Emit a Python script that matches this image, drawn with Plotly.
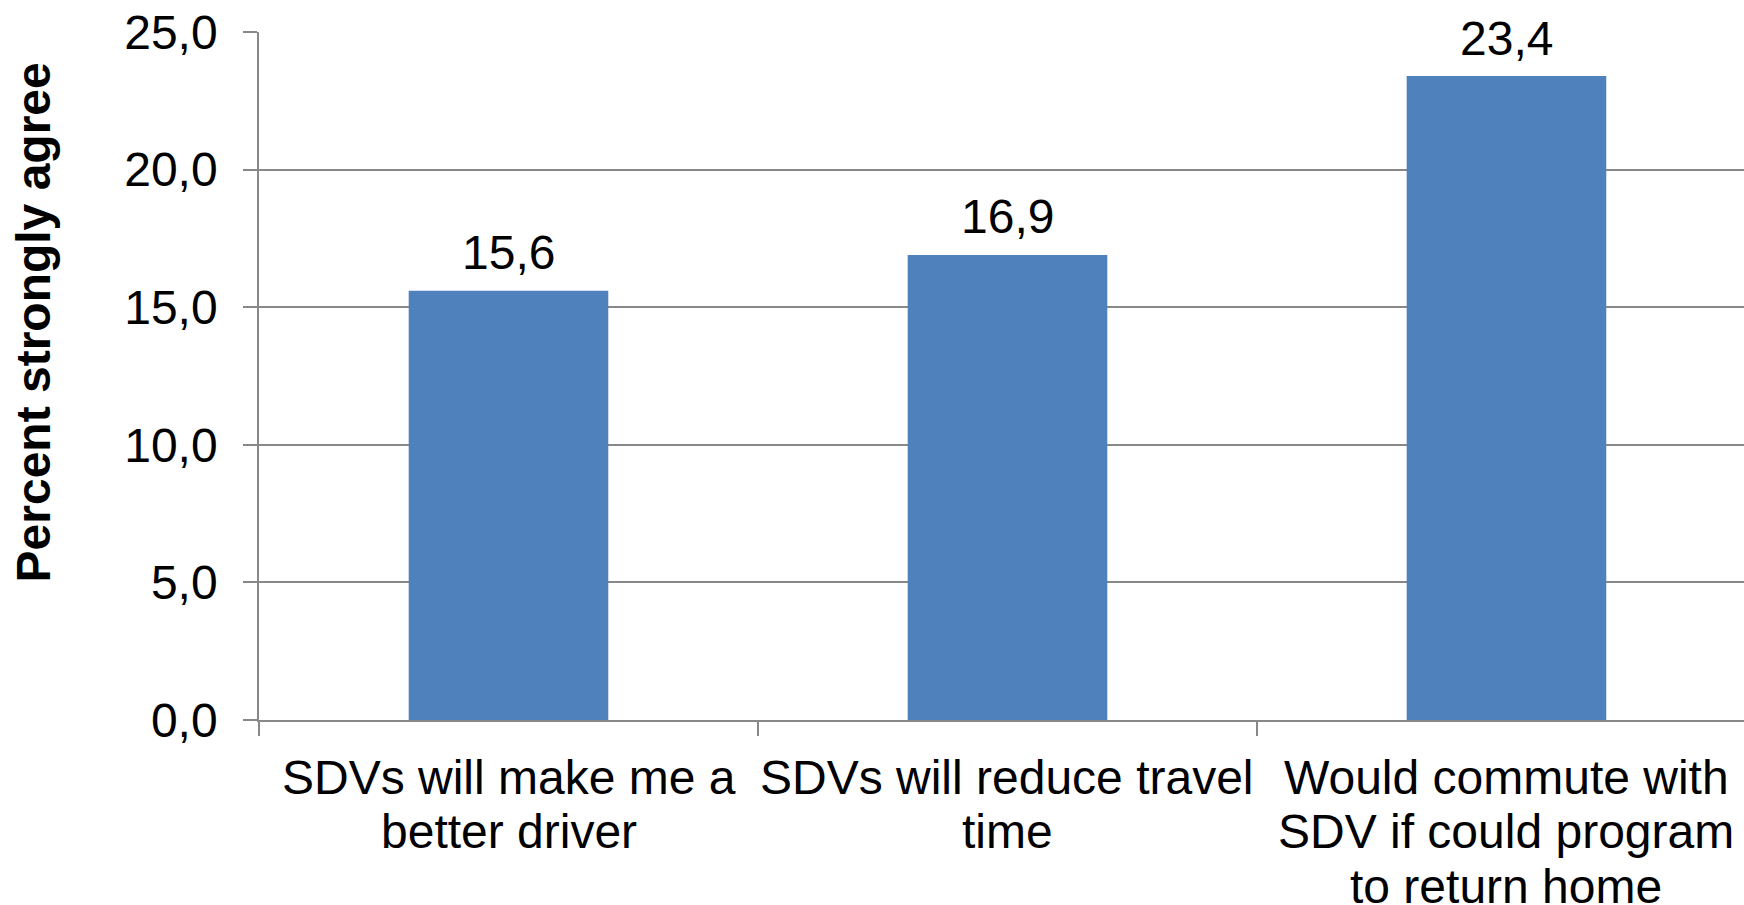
import plotly.graph_objects as go

# Survey results: share of respondents who strongly agree
categories = [
    "SDVs will make me a<br>better driver",
    "SDVs will reduce travel<br>time",
    "Would commute with<br>SDV if could program<br>to return home",
]
values = [15.6, 16.9, 23.4]
y_ticks = [0, 5, 10, 15, 20, 25]
y_title = "Percent strongly agree"

FONT = "Liberation Sans, Arial, sans-serif"
FS = 48
BAR = "#4F81BD"
GRID = "#888888"

x_idx = list(range(len(categories)))
# tick marks sit on the boundaries between categories
x_bounds = [i - 0.5 for i in x_idx]

fig = go.Figure(
    go.Bar(
        x=x_idx,
        y=values,
        width=0.4,
        marker=dict(color=BAR, line=dict(width=0)),
        hoverinfo="skip",
    )
)

annotations = []

# value labels above each bar
for xi, v in zip(x_idx, values):
    annotations.append(dict(
        x=xi, y=v, xref="x", yref="y",
        text=f"{v:.1f}".replace(".", ","),
        showarrow=False, xanchor="center", yanchor="middle",
        yshift=38, font=dict(family=FONT, size=FS, color="#000000"),
    ))

# category labels, one annotation per line for tight line spacing
for xi, label in zip(x_idx, categories):
    for k, line in enumerate(label.split("<br>")):
        annotations.append(dict(
            x=xi, y=0, xref="x", yref="paper",
            text=line, showarrow=False,
            xanchor="center", yanchor="middle",
            yshift=-57 - 54.5 * k,
            font=dict(family=FONT, size=FS, color="#000000"),
        ))

# rotated y-axis title
annotations.append(dict(
    x=-0.1512, y=0.5785, xref="paper", yref="paper",
    text=f"<b>{y_title}</b>", textangle=-90, showarrow=False,
    xanchor="center", yanchor="middle",
    font=dict(family=FONT, size=FS, color="#000000"),
))

fig.update_layout(
    width=1744, height=905,
    margin=dict(l=259, r=0, t=32, b=185, pad=0),
    paper_bgcolor="#FFFFFF", plot_bgcolor="#FFFFFF",
    separators=",.",
    showlegend=False,
    font=dict(family=FONT, size=FS, color="#000000"),
    annotations=annotations,
    xaxis=dict(
        range=[-0.5, 2.476],
        tickmode="array", tickvals=x_bounds, ticktext=[""] * len(x_bounds),
        ticks="outside", ticklen=14,
        tickcolor=GRID, tickwidth=1.5,
        showline=True, linecolor=GRID, linewidth=1.5,
        showgrid=False, zeroline=False, showticklabels=False,
        fixedrange=True,
    ),
    yaxis=dict(
        range=[0, 25],
        tickmode="array", tickvals=y_ticks, tickformat=".1f",
        ticks="outside", ticklen=14, tickcolor=GRID, tickwidth=1.5,
        showline=True, linecolor=GRID, linewidth=1.5,
        showgrid=True, gridcolor=GRID, gridwidth=1.5,
        zeroline=False, ticklabelstandoff=16,
        tickfont=dict(family=FONT, size=FS, color="#000000"),
        fixedrange=True,
    ),
)

fig.write_html("out.html", config={"displayModeBar": False})
